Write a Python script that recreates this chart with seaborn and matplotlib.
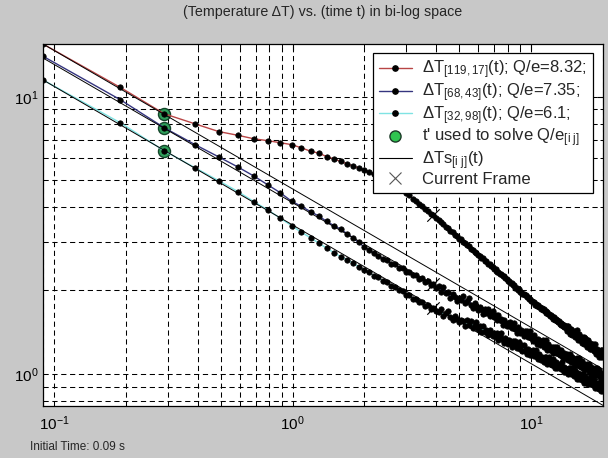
import numpy as np
import pandas as pd
import seaborn as sns
import matplotlib
matplotlib.use("Agg")
import matplotlib.pyplot as plt
from matplotlib.lines import Line2D
from matplotlib.ticker import NullFormatter

# frames: 0.09 s start, one frame every 0.1 s
INITIAL_TIME = 0.09
FRAME_STEP = 0.1
N_FRAMES = 200
time_s = [round(INITIAL_TIME + FRAME_STEP * k, 2) for k in range(N_FRAMES)]

# measured temperature rise at three pixels
red_dT = [
    15.5, 10.8, 8.68, 7.99, 7.49, 7.26, 7.05, 6.94, 6.82, 6.72,
    6.54, 6.36, 6.26, 6.08, 5.97, 5.84, 5.73, 5.63, 5.54, 5.45,
    5.36, 5.27, 5.18, 5.09, 5.00, 4.91, 4.82, 4.72, 4.63, 4.51,
    4.41, 4.29, 4.22, 4.11, 4.04, 3.94, 3.88, 3.79, 3.74, 3.65,
    3.60, 3.52, 3.48, 3.40, 3.36, 3.28, 3.25, 3.18, 3.15, 3.08,
    3.06, 2.99, 2.97, 2.91, 2.89, 2.83, 2.81, 2.76, 2.74, 2.69,
    2.67, 2.62, 2.61, 2.56, 2.55, 2.50, 2.49, 2.45, 2.44, 2.39,
    2.39, 2.34, 2.34, 2.29, 2.29, 2.25, 2.25, 2.21, 2.20, 2.16,
    2.16, 2.12, 2.12, 2.09, 2.09, 2.05, 2.05, 2.01, 2.02, 1.98,
    1.98, 1.95, 1.95, 1.92, 1.92, 1.89, 1.89, 1.86, 1.86, 1.83,
    1.84, 1.81, 1.81, 1.78, 1.79, 1.76, 1.77, 1.74, 1.75, 1.72,
    1.73, 1.70, 1.71, 1.68, 1.69, 1.66, 1.67, 1.64, 1.65, 1.62,
    1.63, 1.60, 1.61, 1.58, 1.60, 1.57, 1.58, 1.55, 1.56, 1.54,
    1.55, 1.52, 1.53, 1.50, 1.52, 1.49, 1.50, 1.48, 1.49, 1.46,
    1.49, 1.43, 1.49, 1.43, 1.45, 1.39, 1.45, 1.42, 1.38, 1.41,
    1.39, 1.43, 1.36, 1.39, 1.44, 1.36, 1.32, 1.39, 1.35, 1.32,
    1.35, 1.34, 1.29, 1.36, 1.31, 1.36, 1.28, 1.32, 1.35, 1.28,
    1.32, 1.25, 1.32, 1.26, 1.28, 1.23, 1.29, 1.26, 1.23, 1.26,
    1.23, 1.28, 1.21, 1.24, 1.28, 1.21, 1.18, 1.23, 1.21, 1.18,
    1.21, 1.19, 1.15, 1.21, 1.17, 1.22, 1.15, 1.18, 1.22, 1.15,
]
blue_dT = [
    14.0, 9.75, 7.73, 6.72, 6.07, 5.58, 5.17, 4.80, 4.50, 4.20,
    4.02, 3.85, 3.71, 3.55, 3.43, 3.33, 3.21, 3.10, 2.98, 2.88,
    2.80, 2.72, 2.67, 2.60, 2.58, 2.50, 2.49, 2.42, 2.41, 2.34,
    2.34, 2.27, 2.28, 2.20, 2.21, 2.15, 2.16, 2.10, 2.11, 2.05,
    2.08, 1.98, 2.06, 1.96, 1.97, 1.88, 1.95, 1.90, 1.84, 1.88,
    1.85, 1.91, 1.80, 1.84, 1.88, 1.78, 1.73, 1.80, 1.75, 1.70,
    1.74, 1.71, 1.65, 1.72, 1.66, 1.71, 1.62, 1.66, 1.69, 1.60,
    1.63, 1.56, 1.63, 1.56, 1.58, 1.50, 1.57, 1.53, 1.49, 1.53,
    1.49, 1.54, 1.46, 1.50, 1.53, 1.45, 1.41, 1.48, 1.44, 1.41,
    1.44, 1.42, 1.37, 1.43, 1.39, 1.43, 1.36, 1.39, 1.43, 1.35,
    1.37, 1.31, 1.38, 1.32, 1.34, 1.28, 1.34, 1.31, 1.27, 1.31,
    1.28, 1.32, 1.25, 1.29, 1.32, 1.25, 1.22, 1.28, 1.25, 1.22,
    1.25, 1.24, 1.19, 1.25, 1.21, 1.25, 1.19, 1.22, 1.25, 1.19,
    1.22, 1.17, 1.22, 1.17, 1.19, 1.14, 1.19, 1.17, 1.14, 1.17,
    1.14, 1.18, 1.12, 1.15, 1.18, 1.12, 1.10, 1.15, 1.13, 1.10,
    1.13, 1.12, 1.08, 1.13, 1.09, 1.14, 1.08, 1.11, 1.14, 1.08,
    1.11, 1.06, 1.11, 1.07, 1.09, 1.04, 1.09, 1.07, 1.04, 1.07,
    1.05, 1.09, 1.03, 1.06, 1.09, 1.03, 1.01, 1.06, 1.04, 1.01,
    1.04, 1.03, 0.99, 1.04, 1.01, 1.05, 0.99, 1.02, 1.05, 1.00,
    1.03, 0.98, 1.03, 0.99, 1.00, 0.96, 1.01, 0.99, 0.97, 0.99,
]
cyan_dT = [
    11.5, 8.05, 6.38, 5.55, 4.98, 4.55, 4.18, 3.90, 3.64, 3.43,
    3.24, 3.10, 2.96, 2.84, 2.74, 2.65, 2.58, 2.51, 2.44, 2.38,
    2.33, 2.26, 2.23, 2.16, 2.14, 2.08, 2.06, 2.00, 1.99, 1.93,
    1.92, 1.87, 1.86, 1.81, 1.82, 1.76, 1.77, 1.72, 1.73, 1.69,
    1.67, 1.72, 1.62, 1.66, 1.69, 1.60, 1.56, 1.62, 1.58, 1.54,
    1.57, 1.55, 1.49, 1.56, 1.50, 1.55, 1.47, 1.50, 1.54, 1.45,
    1.49, 1.42, 1.49, 1.42, 1.44, 1.38, 1.44, 1.40, 1.37, 1.40,
    1.36, 1.41, 1.33, 1.37, 1.40, 1.33, 1.29, 1.35, 1.32, 1.28,
    1.32, 1.30, 1.25, 1.31, 1.27, 1.31, 1.24, 1.27, 1.30, 1.23,
    1.27, 1.21, 1.27, 1.21, 1.23, 1.18, 1.23, 1.20, 1.17, 1.20,
    1.18, 1.22, 1.16, 1.19, 1.22, 1.15, 1.13, 1.18, 1.15, 1.12,
    1.15, 1.14, 1.10, 1.15, 1.11, 1.15, 1.09, 1.12, 1.15, 1.09,
    1.12, 1.08, 1.13, 1.08, 1.10, 1.05, 1.10, 1.08, 1.05, 1.08,
    1.06, 1.09, 1.04, 1.07, 1.10, 1.04, 1.02, 1.06, 1.04, 1.02,
    1.04, 1.03, 1.00, 1.05, 1.01, 1.05, 1.00, 1.02, 1.05, 1.00,
    1.02, 0.98, 1.03, 0.99, 1.00, 0.96, 1.01, 0.98, 0.96, 0.99,
    0.97, 1.00, 0.95, 0.98, 1.00, 0.95, 0.93, 0.98, 0.96, 0.93,
    0.96, 0.95, 0.92, 0.96, 0.93, 0.97, 0.92, 0.94, 0.97, 0.92,
    0.95, 0.91, 0.95, 0.91, 0.93, 0.89, 0.93, 0.91, 0.89, 0.92,
    0.90, 0.93, 0.88, 0.91, 0.93, 0.89, 0.87, 0.91, 0.89, 0.87,
]

# fitted ΔTs(t) lines, end points
fit_t = [0.09, 20.0]
fit_red = [15.5, 1.04]
fit_blue = [13.8, 0.93]
fit_cyan = [11.5, 0.77]

labels = [
    r"ΔT$_\mathregular{[119,17]}$(t); Q/e=8.32;",
    r"ΔT$_\mathregular{[68,43]}$(t); Q/e=7.35;",
    r"ΔT$_\mathregular{[32,98]}$(t); Q/e=6.1;",
    r"t' used to solve Q/e$_\mathregular{[i\ j]}$",
    r"ΔTs$_\mathregular{[i\ j]}$(t)",
    "Current Frame",
]
t_prime_idx = 2      # t' = 0.29 s
current_idx = 38     # current frame 3.89 s

red_c = "#b84545"
blue_c = "#35357f"
cyan_c = "#7fe3e3"
green_c = "#2fc450"

sns.set_style("white")
plt.rcParams["font.family"] = ["Liberation Sans", "DejaVu Sans"]
plt.rcParams["mathtext.fontset"] = "custom"
plt.rcParams["mathtext.rm"] = "Liberation Sans"
plt.rcParams["mathtext.it"] = "Liberation Sans:italic"
plt.rcParams["mathtext.bf"] = "Liberation Sans:bold"

fig = plt.figure(figsize=(6.08, 4.58), dpi=100, facecolor="#c8c8c8")
ax = fig.add_axes([43 / 608, 52 / 458, 560 / 608, 362 / 458])
ax.set_facecolor("white")
ax.set_xscale("log")
ax.set_yscale("log")

df = pd.DataFrame({"t": time_s, "red": red_dT, "blue": blue_dT, "cyan": cyan_dT})

# t' circles under the data dots
tp = [time_s[t_prime_idx]] * 3
tv = [red_dT[t_prime_idx], blue_dT[t_prime_idx], cyan_dT[t_prime_idx]]
sns.scatterplot(x=tp, y=tv, ax=ax, s=75, color="#2f9e5a", edgecolor="#14452a",
                linewidth=1.0, zorder=3, legend=False)

for col, c in [("red", red_c), ("blue", blue_c), ("cyan", cyan_c)]:
    sns.lineplot(data=df, x="t", y=col, ax=ax, color=c, lw=1.0, marker="o",
                 markersize=3.9, markerfacecolor="k", markeredgecolor="k",
                 markeredgewidth=0.5, estimator=None, sort=False, zorder=4)

for fv in [fit_red, fit_blue, fit_cyan]:
    sns.lineplot(x=fit_t, y=fv, ax=ax, color="k", lw=0.7, estimator=None,
                 sort=False, zorder=5)

cf_t = [time_s[current_idx]] * 3
cf_v = [red_dT[current_idx], blue_dT[current_idx], cyan_dT[current_idx]]
sns.scatterplot(x=cf_t, y=cf_v, ax=ax, marker="x", s=80, color="k",
                linewidth=0.8, zorder=6, legend=False)

ax.set_xlim(0.09, 20)
ax.set_ylim(0.766, 15.5)
ax.set_xlabel("")
ax.set_ylabel("")
ax.grid(True, which="both", color="k", linestyle=(0, (5, 3.5)), linewidth=0.75)
ax.tick_params(which="both", direction="in", top=True, right=True, colors="k",
               labelsize=11)
ax.tick_params(which="major", length=4, width=0.8)
ax.tick_params(which="minor", length=2.5, width=0.7)
ax.tick_params(axis="x", pad=6)
ax.tick_params(axis="y", pad=3)
ax.xaxis.set_minor_formatter(NullFormatter())
ax.yaxis.set_minor_formatter(NullFormatter())
for sp in ax.spines.values():
    sp.set_color("k")
    sp.set_linewidth(0.9)

handles = [
    Line2D([], [], color=red_c, lw=1.0, marker="o", ms=3.8, mfc="k", mec="k"),
    Line2D([], [], color=blue_c, lw=1.0, marker="o", ms=3.8, mfc="k", mec="k"),
    Line2D([], [], color=cyan_c, lw=1.0, marker="o", ms=3.8, mfc="k", mec="k"),
    Line2D([], [], ls="none", marker="o", ms=8, mfc=green_c, mec="#1c3a28", mew=1.0),
    Line2D([], [], color="k", lw=0.8),
    Line2D([], [], ls="none", marker="x", ms=9, color="#555555", mew=0.8),
]
leg = ax.legend(handles, labels, loc="upper right", bbox_to_anchor=(0.982, 0.975),
                borderaxespad=0, fontsize=12, frameon=True, fancybox=False,
                framealpha=1, edgecolor="k", handlelength=1.95, handletextpad=0.65,
                labelspacing=0.0, borderpad=0.35, numpoints=1)
leg.get_frame().set_linewidth(0.9)
leg.set_zorder(10)

fig.text(323 / 608, 1 - 12 / 458, "(Temperature ΔT) vs. (time t) in bi-log space",
         ha="center", va="center", fontsize=10.3)
fig.text(30 / 608, 1 - 447 / 458, "Initial Time: 0.09 s", ha="left", va="center",
         fontsize=8.5)

fig.savefig("out.png", dpi=100, facecolor=fig.get_facecolor())
